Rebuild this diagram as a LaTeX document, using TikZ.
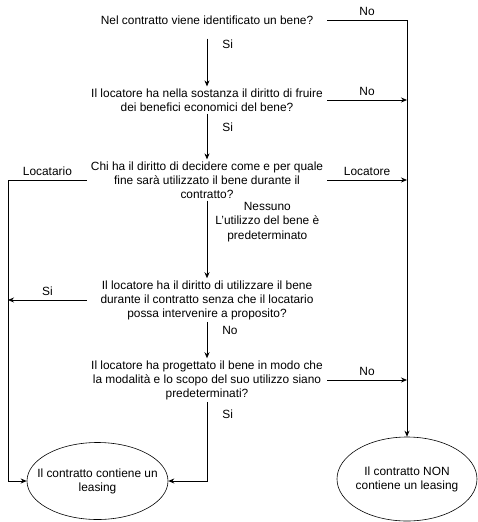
\documentclass[tikz,border=0pt]{standalone}
\usepackage{fontspec}
\setmainfont{Liberation Sans}
\usetikzlibrary{arrows.meta,shapes.geometric}

\tikzset{
  quest/.style={align=center, inner xsep=2pt, inner ysep=2pt, minimum width=240pt},
  endbox/.style={draw, ellipse, line width=0.6pt, inner sep=0pt},
  conn/.style={line width=0.8pt, -{Stealth[length=6pt,width=5pt]}},
  lbl/.style={font=\fontsize{11.9}{14.5}\selectfont, inner sep=1pt}
}

\begin{document}
\begin{tikzpicture}[x=1pt, y=-1pt, font=\fontsize{11.9}{14}\selectfont]
\useasboundingbox (0,0) rectangle (478,522);

% domande
\node[quest] (q1) at (207,20) {Nel contratto viene identificato un bene?};
\node[quest] (q2) at (207,100) {Il locatore ha nella sostanza il diritto di fruire\\dei benefici economici del bene?};
\node[quest] (q3) at (207,180) {Chi ha il diritto di decidere come e per quale\\fine sarà utilizzato il bene durante il\\contratto?};
\node[quest] (q4) at (207,300) {Il locatore ha il diritto di utilizzare il bene\\durante il contratto senza che il locatario\\possa intervenire a proposito?};
\node[quest] (q5) at (207,380) {Il locatore ha progettato il bene in modo che\\la modalità e lo scopo del suo utilizzo siano\\predeterminati?};

% esiti
\node[endbox, minimum width=141pt, minimum height=77pt,
  label={[align=center]center:Il contratto contiene un\\leasing}] (si) at (97.5,481) {};
\node[endbox, minimum width=140pt, minimum height=84pt,
  label={[align=center]center:Il contratto NON\\contiene un leasing}] (no) at (407,479) {};

\coordinate (dx) at (407,20);
\coordinate (sx) at (8,180);

% frecce verticali
\draw[conn, shorten <=12pt] (q1) -- (q2) node[lbl, pos=.3, right=14pt] {Si};
\draw[conn] (q2) -- (q3) node[lbl, pos=.3, right=14pt] {Si};
\draw[conn] (q3) -- (q4) node[lbl, at start, anchor=north west, xshift=7pt, align=center] {Nessuno\\L'utilizzo del bene è\\predeterminato};
\draw[conn] (q4) -- (q5) node[lbl, pos=.25, right=14pt] {No};

% lato destro
\draw[conn] (q1.east) -- (dx) node[lbl, midway, above=3pt] {No} -- (no.north);
\draw[conn] (q2.east) -- (q2.east -| dx) node[lbl, midway, above=3pt] {No};
\draw[conn] (q3.east) -- (q3.east -| dx) node[lbl, midway, above=3pt] {Locatore};
\draw[conn] (q5.east) -- (q5.east -| dx) node[lbl, midway, above=3pt] {No};

% lato sinistro
\draw[conn] (q3.west) -- (sx) node[lbl, midway, above=3pt] {Locatario} |- (si.west);
\draw[conn] (q4.west) -- (q4.west -| sx) node[lbl, midway, above=3pt] {Si};
\draw[conn] (q5.south) |- (si.east) node[lbl, pos=.08, right=14pt] {Si};
\end{tikzpicture}
\end{document}
